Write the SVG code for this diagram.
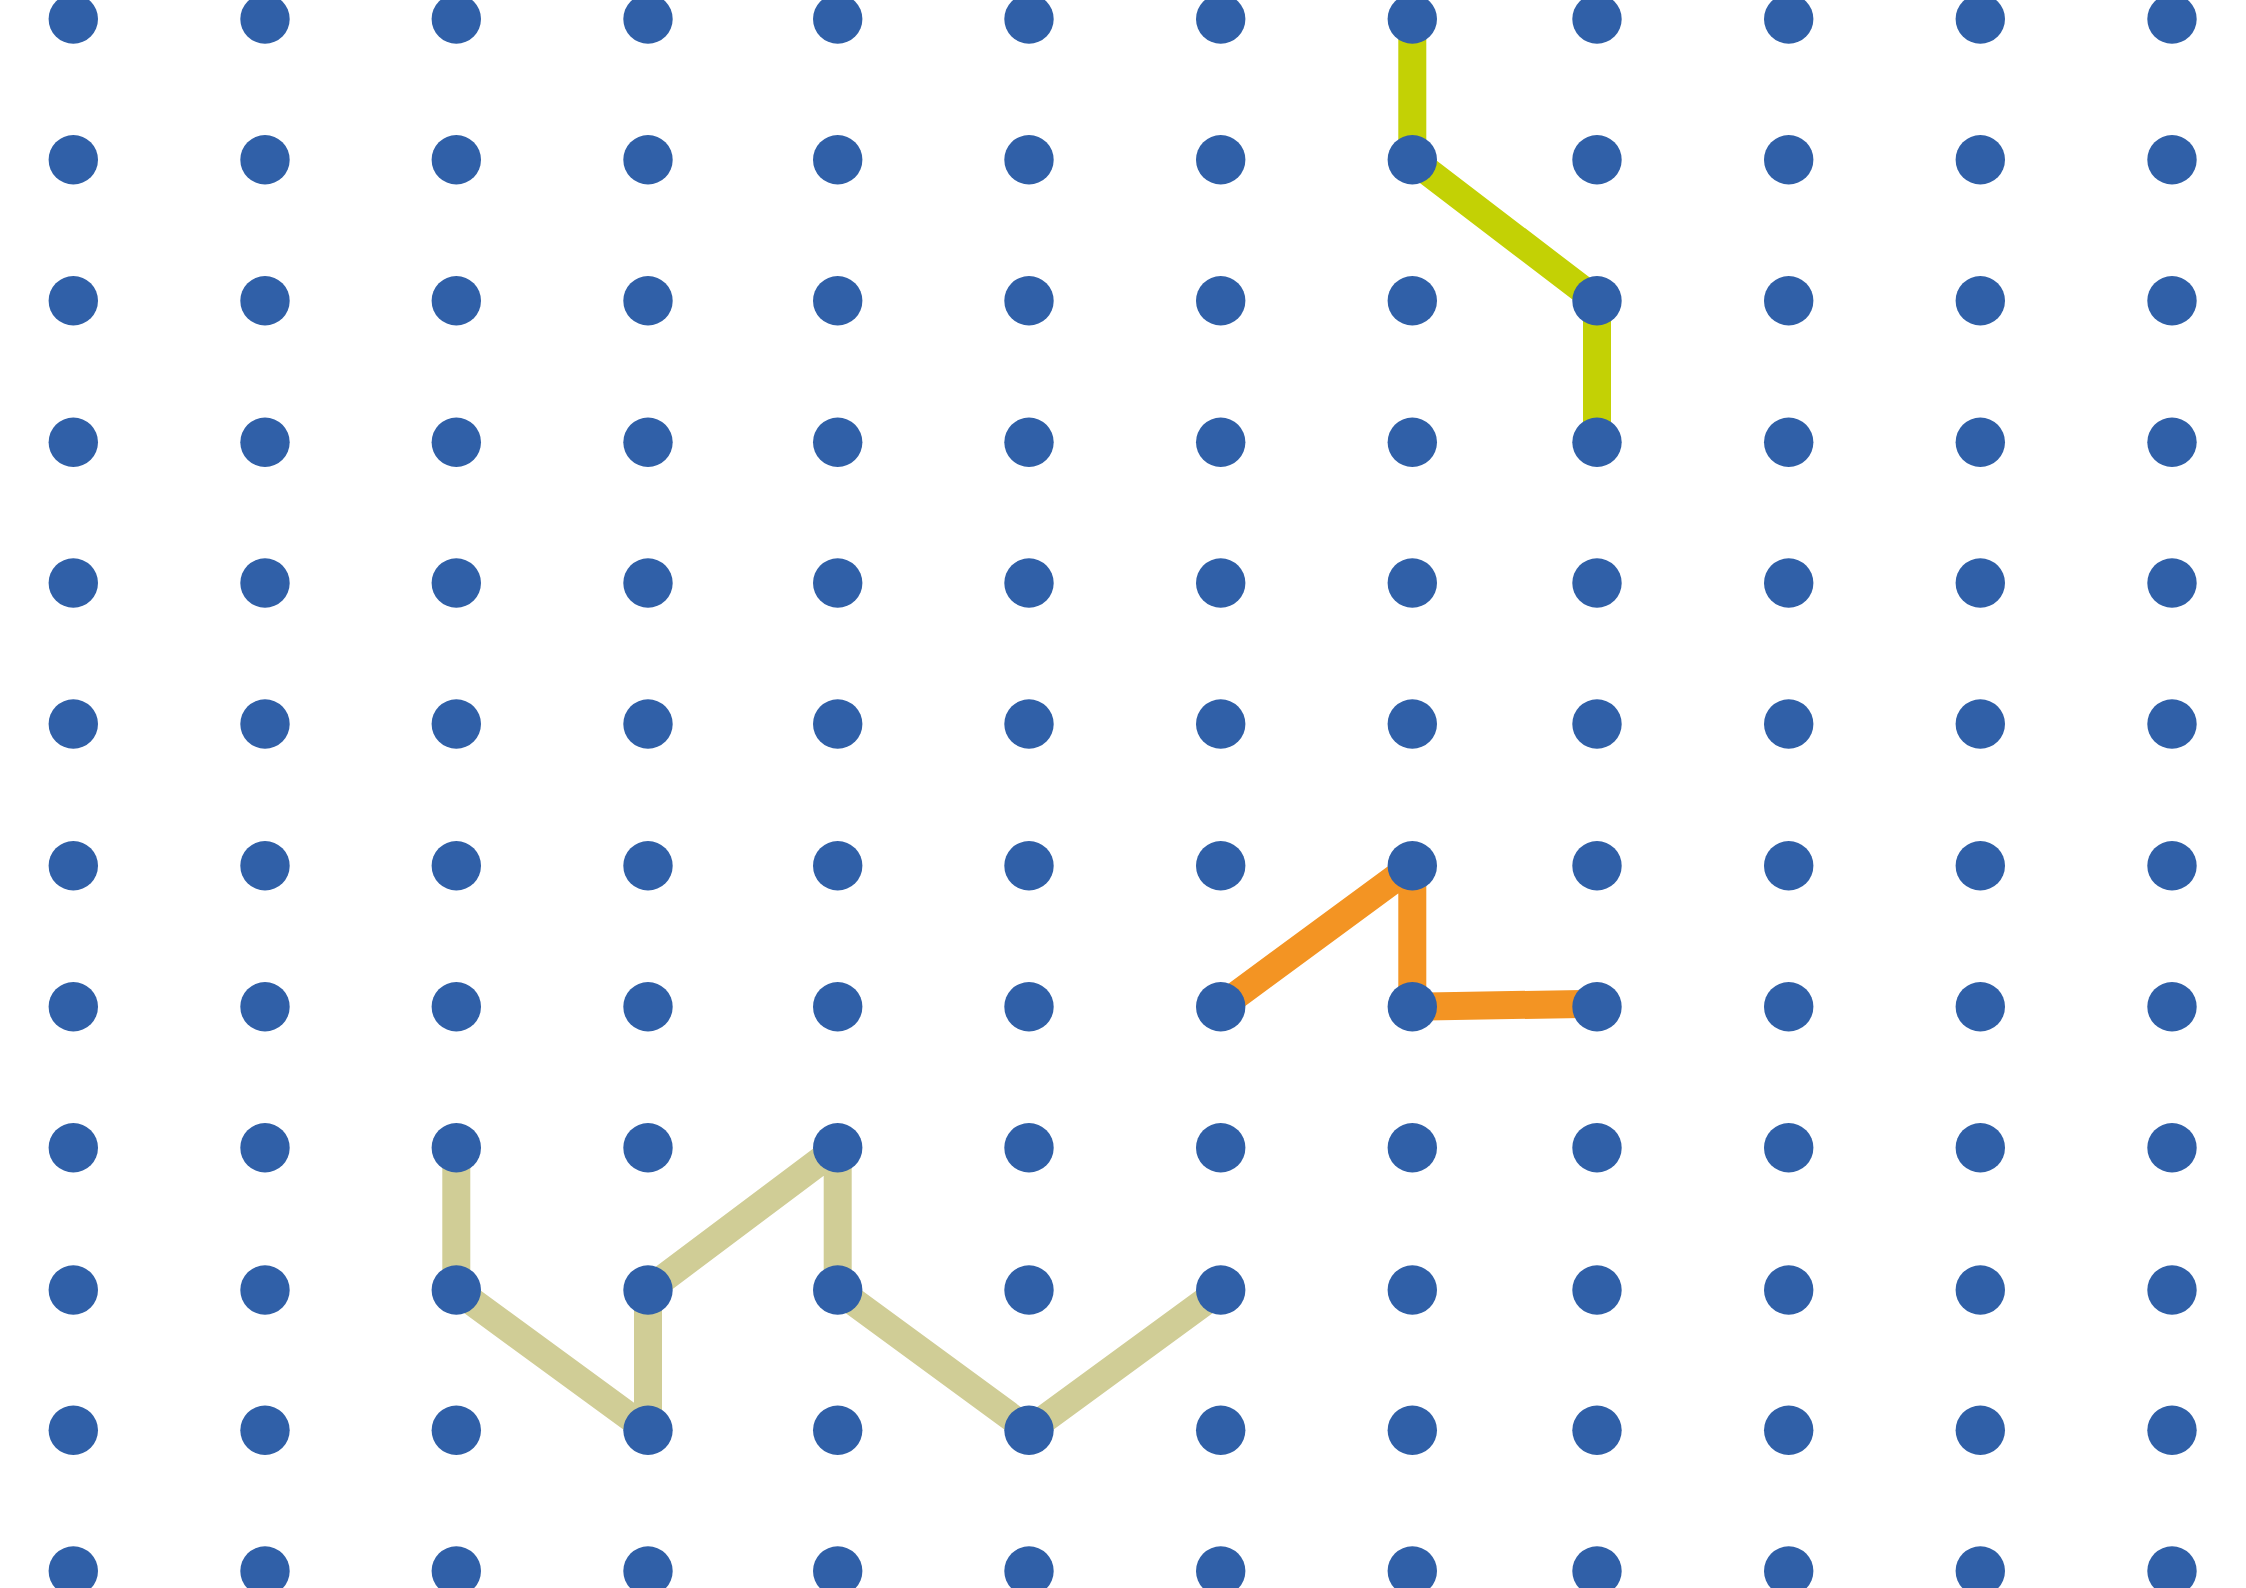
<svg xmlns="http://www.w3.org/2000/svg" width="2246" height="1588" viewBox="0 0 2246 1588">
<style>
.dot{fill:#3060A8}
.path{fill:none;stroke-width:28;stroke-linecap:butt}
.tan{stroke:#D0CD96}
.lime{stroke:#C3D105}
.orange{stroke:#F39423}
</style>
<defs>
<circle id="d" r="24.7" class="dot"/>
</defs>
<rect width="2246" height="1588" fill="#FFFFFF"/>
<g id="connectors">
<path class="path lime" d="M1412.3,19 L1412.3,159.7 M1412.3,159.7 L1597,300.7 M1597,300.7 L1597,442.3"/>
<path class="path orange" d="M1220.7,1006.7 L1412.3,865.7 M1412.3,865.7 L1412.3,1006.7 M1412.3,1006.7 L1597,1003.7"/>
<path class="path tan" d="M456.3,1147.7 L456.3,1290 M456.3,1290 L648,1430.3 M648,1430.3 L648,1290 M648,1290 L837.7,1147.7 M837.7,1147.7 L837.7,1290 M837.7,1290 L1029,1430.3 M1029,1430.3 L1220.7,1290"/>
</g>
<g id="dots">
<g id="row0"><use href="#d" x="73.3" y="19"/><use href="#d" x="265" y="19"/><use href="#d" x="456.3" y="19"/><use href="#d" x="648" y="19"/><use href="#d" x="837.7" y="19"/><use href="#d" x="1029" y="19"/><use href="#d" x="1220.7" y="19"/><use href="#d" x="1412.3" y="19"/><use href="#d" x="1597" y="19"/><use href="#d" x="1788.7" y="19"/><use href="#d" x="1980.3" y="19"/><use href="#d" x="2172" y="19"/></g>
<g id="row1"><use href="#d" x="73.3" y="159.7"/><use href="#d" x="265" y="159.7"/><use href="#d" x="456.3" y="159.7"/><use href="#d" x="648" y="159.7"/><use href="#d" x="837.7" y="159.7"/><use href="#d" x="1029" y="159.7"/><use href="#d" x="1220.7" y="159.7"/><use href="#d" x="1412.3" y="159.7"/><use href="#d" x="1597" y="159.7"/><use href="#d" x="1788.7" y="159.7"/><use href="#d" x="1980.3" y="159.7"/><use href="#d" x="2172" y="159.7"/></g>
<g id="row2"><use href="#d" x="73.3" y="300.7"/><use href="#d" x="265" y="300.7"/><use href="#d" x="456.3" y="300.7"/><use href="#d" x="648" y="300.7"/><use href="#d" x="837.7" y="300.7"/><use href="#d" x="1029" y="300.7"/><use href="#d" x="1220.7" y="300.7"/><use href="#d" x="1412.3" y="300.7"/><use href="#d" x="1597" y="300.7"/><use href="#d" x="1788.7" y="300.7"/><use href="#d" x="1980.3" y="300.7"/><use href="#d" x="2172" y="300.7"/></g>
<g id="row3"><use href="#d" x="73.3" y="442.3"/><use href="#d" x="265" y="442.3"/><use href="#d" x="456.3" y="442.3"/><use href="#d" x="648" y="442.3"/><use href="#d" x="837.7" y="442.3"/><use href="#d" x="1029" y="442.3"/><use href="#d" x="1220.7" y="442.3"/><use href="#d" x="1412.3" y="442.3"/><use href="#d" x="1597" y="442.3"/><use href="#d" x="1788.7" y="442.3"/><use href="#d" x="1980.3" y="442.3"/><use href="#d" x="2172" y="442.3"/></g>
<g id="row4"><use href="#d" x="73.3" y="583"/><use href="#d" x="265" y="583"/><use href="#d" x="456.3" y="583"/><use href="#d" x="648" y="583"/><use href="#d" x="837.7" y="583"/><use href="#d" x="1029" y="583"/><use href="#d" x="1220.7" y="583"/><use href="#d" x="1412.3" y="583"/><use href="#d" x="1597" y="583"/><use href="#d" x="1788.7" y="583"/><use href="#d" x="1980.3" y="583"/><use href="#d" x="2172" y="583"/></g>
<g id="row5"><use href="#d" x="73.3" y="724"/><use href="#d" x="265" y="724"/><use href="#d" x="456.3" y="724"/><use href="#d" x="648" y="724"/><use href="#d" x="837.7" y="724"/><use href="#d" x="1029" y="724"/><use href="#d" x="1220.7" y="724"/><use href="#d" x="1412.3" y="724"/><use href="#d" x="1597" y="724"/><use href="#d" x="1788.7" y="724"/><use href="#d" x="1980.3" y="724"/><use href="#d" x="2172" y="724"/></g>
<g id="row6"><use href="#d" x="73.3" y="865.7"/><use href="#d" x="265" y="865.7"/><use href="#d" x="456.3" y="865.7"/><use href="#d" x="648" y="865.7"/><use href="#d" x="837.7" y="865.7"/><use href="#d" x="1029" y="865.7"/><use href="#d" x="1220.7" y="865.7"/><use href="#d" x="1412.3" y="865.7"/><use href="#d" x="1597" y="865.7"/><use href="#d" x="1788.7" y="865.7"/><use href="#d" x="1980.3" y="865.7"/><use href="#d" x="2172" y="865.7"/></g>
<g id="row7"><use href="#d" x="73.3" y="1006.7"/><use href="#d" x="265" y="1006.7"/><use href="#d" x="456.3" y="1006.7"/><use href="#d" x="648" y="1006.7"/><use href="#d" x="837.7" y="1006.7"/><use href="#d" x="1029" y="1006.7"/><use href="#d" x="1220.7" y="1006.7"/><use href="#d" x="1412.3" y="1006.7"/><use href="#d" x="1597" y="1006.7"/><use href="#d" x="1788.7" y="1006.7"/><use href="#d" x="1980.3" y="1006.7"/><use href="#d" x="2172" y="1006.7"/></g>
<g id="row8"><use href="#d" x="73.3" y="1147.7"/><use href="#d" x="265" y="1147.7"/><use href="#d" x="456.3" y="1147.7"/><use href="#d" x="648" y="1147.7"/><use href="#d" x="837.7" y="1147.7"/><use href="#d" x="1029" y="1147.7"/><use href="#d" x="1220.7" y="1147.7"/><use href="#d" x="1412.3" y="1147.7"/><use href="#d" x="1597" y="1147.7"/><use href="#d" x="1788.7" y="1147.7"/><use href="#d" x="1980.3" y="1147.7"/><use href="#d" x="2172" y="1147.7"/></g>
<g id="row9"><use href="#d" x="73.3" y="1290"/><use href="#d" x="265" y="1290"/><use href="#d" x="456.3" y="1290"/><use href="#d" x="648" y="1290"/><use href="#d" x="837.7" y="1290"/><use href="#d" x="1029" y="1290"/><use href="#d" x="1220.7" y="1290"/><use href="#d" x="1412.3" y="1290"/><use href="#d" x="1597" y="1290"/><use href="#d" x="1788.7" y="1290"/><use href="#d" x="1980.3" y="1290"/><use href="#d" x="2172" y="1290"/></g>
<g id="row10"><use href="#d" x="73.3" y="1430.3"/><use href="#d" x="265" y="1430.3"/><use href="#d" x="456.3" y="1430.3"/><use href="#d" x="648" y="1430.3"/><use href="#d" x="837.7" y="1430.3"/><use href="#d" x="1029" y="1430.3"/><use href="#d" x="1220.7" y="1430.3"/><use href="#d" x="1412.3" y="1430.3"/><use href="#d" x="1597" y="1430.3"/><use href="#d" x="1788.7" y="1430.3"/><use href="#d" x="1980.3" y="1430.3"/><use href="#d" x="2172" y="1430.3"/></g>
<g id="row11"><use href="#d" x="73.3" y="1571"/><use href="#d" x="265" y="1571"/><use href="#d" x="456.3" y="1571"/><use href="#d" x="648" y="1571"/><use href="#d" x="837.7" y="1571"/><use href="#d" x="1029" y="1571"/><use href="#d" x="1220.7" y="1571"/><use href="#d" x="1412.3" y="1571"/><use href="#d" x="1597" y="1571"/><use href="#d" x="1788.7" y="1571"/><use href="#d" x="1980.3" y="1571"/><use href="#d" x="2172" y="1571"/></g>
</g>
</svg>
